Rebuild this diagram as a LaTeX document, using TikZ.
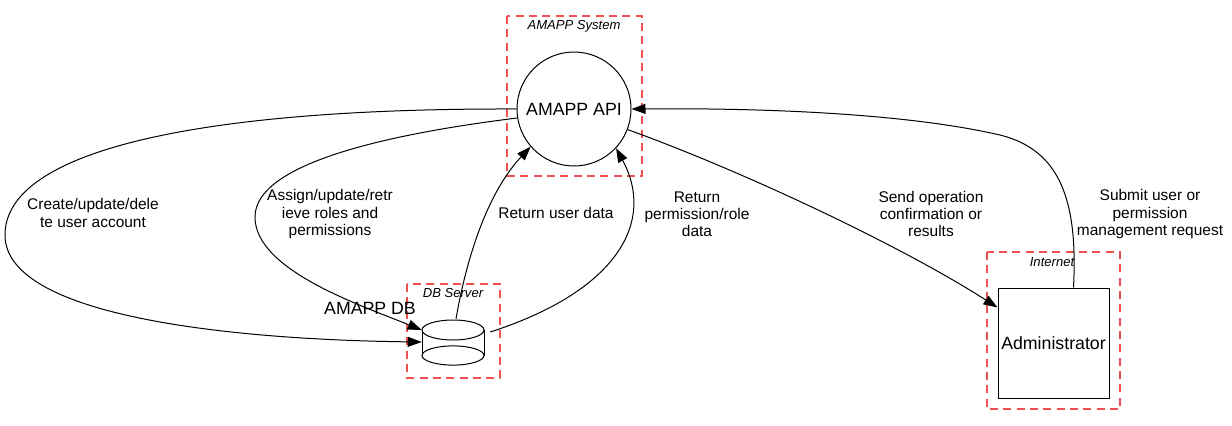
\documentclass[tikz,border=0pt]{standalone}
\usepackage{fontspec}
\setmainfont{Liberation Sans}
\usetikzlibrary{arrows.meta,calc}

\begin{document}
\begin{tikzpicture}[x=0.75pt, y=-0.75pt,
  cluster/.style={draw={rgb,255:red,240;green,80;blue,80}, dash pattern=on 6pt off 4pt, line width=0.9pt},
  clusterlab/.style={font=\fontsize{9.8}{11}\selectfont\itshape},
  flow/.style={-{Triangle[length=10.5pt,width=7.5pt]}, line width=0.75pt},
  flowlab/.style={font=\fontsize{11.6}{12.8}\selectfont, align=center},
  nodelab/.style={font=\fontsize{13.3}{15}\selectfont}]
\useasboundingbox (0,0) rectangle (1232,425);

% clusters
\draw[cluster] (507,16) rectangle (642,176);
\node[clusterlab] (syslab) at (574,26) {AMAPP System};
\draw[cluster] (407,284) rectangle (500,378);
\node[clusterlab] (dbsrvlab) at (453,293) {DB Server};
\draw[cluster] (987,252) rectangle (1120,409);
\node[clusterlab] (netlab) at (1052,262) {Internet};

% nodes
\node[draw, circle, minimum size=85.5pt, inner sep=0, line width=0.75pt, nodelab] (api) at (574,109) {AMAPP API};
\node[minimum width=46.5pt, minimum height=34.5pt, inner sep=0] (db) at (453,342) {};
\draw[line width=0.75pt, fill=white] (422,330) -- (422,355.5) -- (484,355.5) -- (484,330);
\draw[line width=0.75pt, fill=white] (453,355.5) ellipse [x radius=23.25pt, y radius=7.2pt];
\draw[line width=0.75pt, fill=white] (453,330) ellipse [x radius=23.25pt, y radius=7.5pt];
\node[nodelab] (dblab) at (370,308) {AMAPP DB};
\node[draw, minimum width=83.25pt, minimum height=82.5pt, inner sep=0, line width=0.75pt, nodelab] (admin) at (1053.5,343) {Administrator};

% connectors
\draw[flow] (api.180) .. controls (200,108) and (5,150) .. (5,235) .. controls (5,320) and (250,340) .. (db.west);
\draw[flow] (api.189) .. controls (380,135) and (255,165) .. (255,217) .. controls (255,270) and (360,305) .. ($(db.west)+(0,-12)$);
\draw[flow] ($(db.north)+(3,0)$) .. controls (468,250) and (490,190) .. (api.221);
\draw[flow] ($(db.east)+(6,-10)$) .. controls (620,290) and (655,220) .. (api.317);
\draw[flow] (api.339) .. controls (740,170) and (900,245) .. ($(admin.north west)+(0,20)$);
\draw[flow] ($(admin.north)+(20,0)$) .. controls (1078,200) and (1060,150) .. (1000,135) .. controls (900,112) and (750,108) .. (api.0);

% labels
\node[flowlab] (l1) at (93,213) {Create/update/dele\\te user account};
\node[flowlab] (l2) at (330,214) {Assign/update/retr\\ieve roles and\\permissions};
\node[flowlab] (l3) at (556,213) {Return user data};
\node[flowlab] (l4) at (697,214) {Return\\permission/role\\data};
\node[flowlab] (l5) at (931,214) {Send operation\\confirmation or\\results};
\node[flowlab] (l6) at (1150,214) {Submit user or\\permission\\management request};
\end{tikzpicture}
\end{document}
